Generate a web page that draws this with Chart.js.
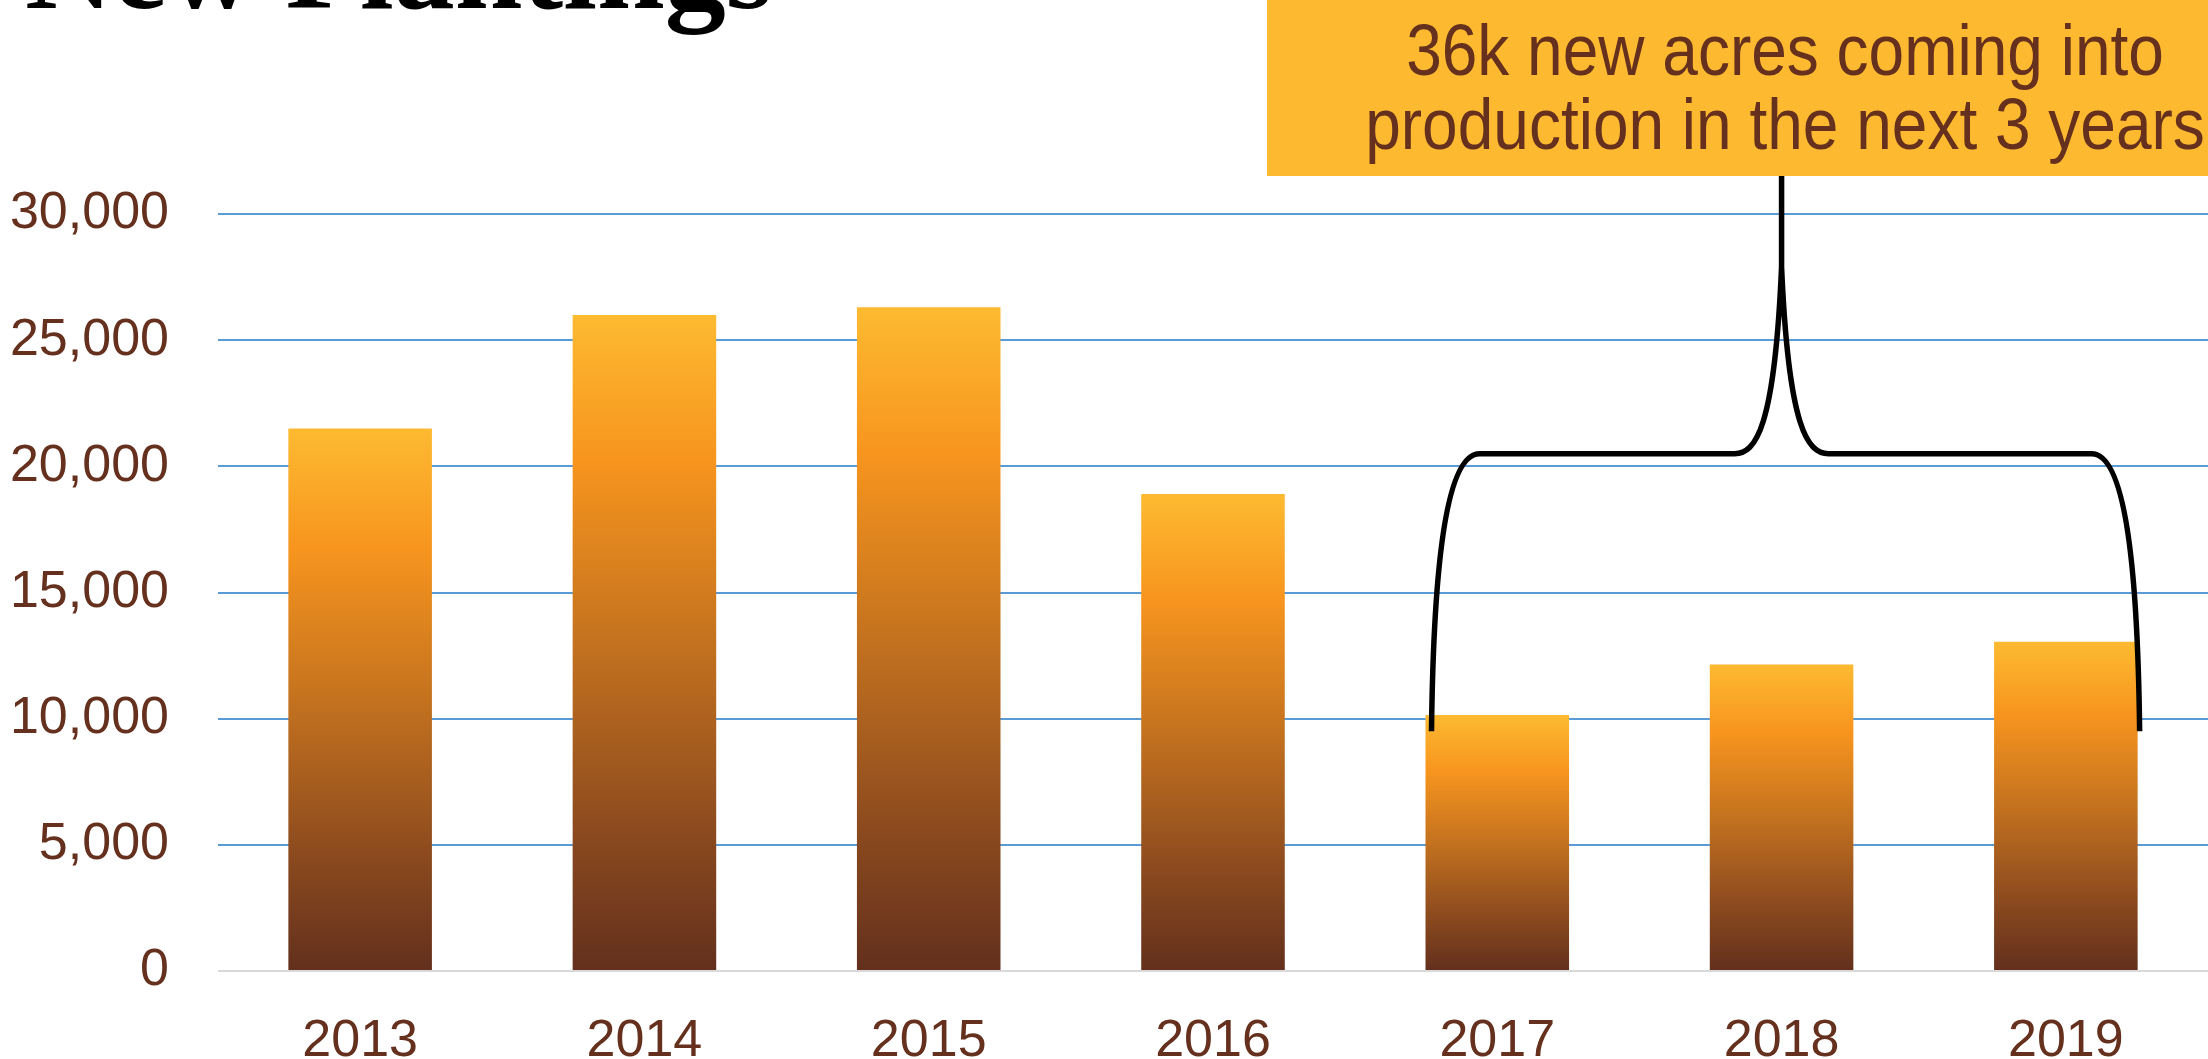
<!DOCTYPE html>
<html>
<head>
<meta charset="utf-8">
<style>
  html, body { margin: 0; padding: 0; background: #ffffff; }
  #wrap { position: relative; width: 2208px; height: 1059px; overflow: hidden; }
  canvas { display: block; }
</style>
<script src="https://cdn.jsdelivr.net/npm/chart.js@4.4.1/dist/chart.umd.min.js"></script>
</head>
<body>
<div id="wrap"><canvas id="c" width="2208" height="1059"></canvas></div>
<script>
// ---- data ----
const categories = ["2013", "2014", "2015", "2016", "2017", "2018", "2019"];
const newAcres = [21500, 26000, 26300, 18900, 10150, 12150, 13050];
const yTicks = [0, 5000, 10000, 15000, 20000, 25000, 30000];
const titleText = "New Plantings";
const calloutLines = ["36k new acres coming into", "production in the next 3 years"];
// brace annotation: first and last category spanned, values of its bottom ends,
// its horizontal bar and the point where the two halves meet
const braceFrom = 4, braceTo = 6, braceMid = 5;
const braceEndValue = 9500, braceBarValue = 20500, bracePeakValue = 27900;

const TEXT_BROWN = '#65301D';

const gradientPlugin = {
  id: 'barGradient',
  beforeDatasetsDraw(chart) {
    const ctx = chart.ctx;
    const meta = chart.getDatasetMeta(0);
    meta.data.forEach((el) => {
      const top = Math.min(el.y, el.base), bottom = Math.max(el.y, el.base);
      if (!isFinite(top) || !isFinite(bottom) || bottom - top < 1) return;
      const g = ctx.createLinearGradient(0, top, 0, bottom);
      g.addColorStop(0, '#FDBA31');
      g.addColorStop(0.22, '#F7951E');
      g.addColorStop(0.5, '#C4721F');
      g.addColorStop(0.78, '#8D4B1E');
      g.addColorStop(1, '#63301D');
      el.options.backgroundColor = g;
    });
  }
};

const decorPlugin = {
  id: 'decor',
  afterDatasetsDraw(chart) {
    const ctx = chart.ctx;
    const xs = chart.scales.x, ys = chart.scales.y;
    const meta = chart.getDatasetMeta(0);
    const b0 = meta.data[braceFrom], b1 = meta.data[braceTo];
    const xL = b0.x - b0.width / 2 + 6;
    const xR = b1.x + b1.width / 2 + 2;
    const cx = xs.getPixelForValue(braceMid);
    const yEnd = ys.getPixelForValue(braceEndValue);
    const yBar = ys.getPixelForValue(braceBarValue);
    const yPeak = ys.getPixelForValue(bracePeakValue);
    const boxBottom = 176;

    // callout box
    ctx.save();
    ctx.fillStyle = '#FDB92F';
    ctx.fillRect(1267, 0, chart.width - 1267, boxBottom);
    ctx.fillStyle = TEXT_BROWN;
    ctx.font = '64px "Liberation Sans", Arial, sans-serif';
    ctx.textAlign = 'center';
    ctx.textBaseline = 'middle';
    ctx.save();
    ctx.translate(1785, 55);
    ctx.scale(1, 1.12);
    ctx.fillText(calloutLines[0], 0, 0);
    ctx.restore();
    ctx.save();
    ctx.translate(1785, 129);
    ctx.scale(1, 1.12);
    ctx.fillText(calloutLines[1], 0, 0);
    ctx.restore();
    ctx.restore();

    // brace
    ctx.save();
    ctx.strokeStyle = '#000000';
    ctx.lineWidth = 5.5;
    ctx.lineJoin = 'round';
    ctx.lineCap = 'butt';
    ctx.beginPath();
    ctx.moveTo(xL, yEnd);
    ctx.bezierCurveTo(xL + 2, yBar + 110, xL + 15, yBar, xL + 48, yBar);
    ctx.lineTo(cx - 47, yBar);
    ctx.bezierCurveTo(cx - 26, yBar, cx - 7, yBar - 25, cx, yPeak);
    ctx.lineTo(cx, boxBottom);
    ctx.moveTo(cx, yPeak);
    ctx.bezierCurveTo(cx + 7, yBar - 25, cx + 26, yBar, cx + 47, yBar);
    ctx.lineTo(xR - 48, yBar);
    ctx.bezierCurveTo(xR - 15, yBar, xR - 2, yBar + 110, xR, yEnd);
    ctx.stroke();
    ctx.restore();

    // title (mostly above the visible area)
    ctx.save();
    ctx.fillStyle = '#000000';
    ctx.font = 'bold 122px "Liberation Serif", "Times New Roman", serif';
    ctx.textAlign = 'left';
    ctx.textBaseline = 'alphabetic';
    ctx.fillText(titleText, 25, 8, 748);
    ctx.restore();
  }
};

new Chart(document.getElementById('c'), {
  type: 'bar',
  data: {
    labels: categories,
    datasets: [{
      data: newAcres,
      backgroundColor: () => '#F7951E',
      borderWidth: 0,
      barPercentage: 0.505,
      categoryPercentage: 1.0
    }]
  },
  options: {
    responsive: false,
    animation: false,
    devicePixelRatio: 1,
    layout: { padding: { top: 214, right: 0, left: 0, bottom: 0 } },
    plugins: { legend: { display: false }, tooltip: { enabled: false }, title: { display: false } },
    scales: {
      x: {
        grid: { display: false, drawTicks: false },
        border: { display: false },
        ticks: {
          color: TEXT_BROWN,
          font: { family: '"Liberation Sans", Arial, sans-serif', size: 52, lineHeight: 1.2 },
          padding: 39,
          maxRotation: 0,
          autoSkip: false
        },
        afterFit(s) { s.height = 88; }
      },
      y: {
        min: 0,
        max: 30000,
        afterBuildTicks(s) { s.ticks = yTicks.map(v => ({ value: v })); },
        grid: {
          drawTicks: false,
          lineWidth: 2,
          color: (c) => (c.tick && c.tick.value === 0) ? '#D9D9D9' : '#5B9BD5'
        },
        border: { display: false },
        ticks: {
          color: TEXT_BROWN,
          font: { family: '"Liberation Sans", Arial, sans-serif', size: 52 },
          padding: 49,
          callback: (v) => Number(v).toLocaleString('en-US')
        },
        afterFit(s) { s.width = 218; }
      }
    }
  },
  plugins: [gradientPlugin, decorPlugin]
});
</script>
</body>
</html>
